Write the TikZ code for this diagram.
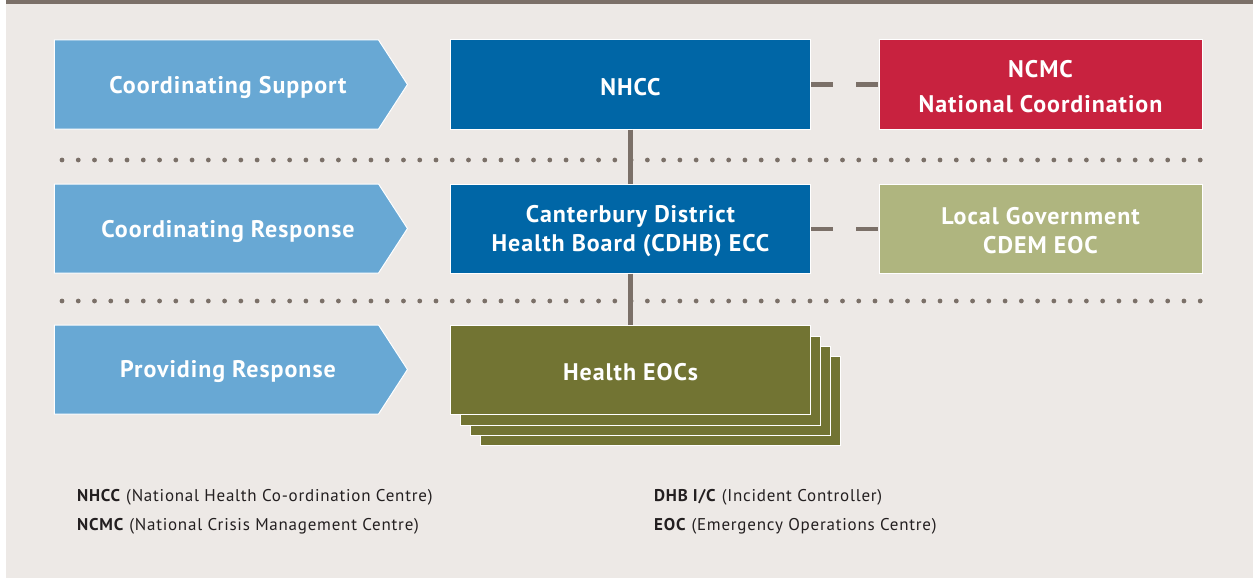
\documentclass[tikz,border=0pt]{standalone}
\usepackage{fontspec}
\setmainfont{PT Sans}
\newfontfamily\boxfont{PT Sans}[LetterSpace=4]
\newfontfamily\legendfont{PT Sans}[LetterSpace=4.5]
\usetikzlibrary{shapes.symbols, positioning}
\definecolor{bggray}{HTML}{EDE9E6}
\definecolor{linegray}{HTML}{7B7068}
\definecolor{arrowblue}{HTML}{68A8D4}
\definecolor{darkblue}{HTML}{0066A6}
\definecolor{ncmcred}{HTML}{C8223F}
\definecolor{localgreen}{HTML}{AFB57F}
\definecolor{eocolive}{HTML}{727433}
\definecolor{legendtext}{HTML}{231F20}

\begin{document}
\begin{tikzpicture}[x=1pt, y=-1pt,
    labeltext/.style={font=\boxfont\bfseries\fontsize{24}{29}\selectfont, text=white, align=center, yshift=-2.5pt},
    levelarrow/.style={signal, signal to=east, signal pointer angle=114, fill=arrowblue, draw=white, line width=1pt, minimum width=353pt, minimum height=89pt, inner sep=0pt},
    orgbox/.style={rectangle, draw=white, line width=1pt, minimum width=360pt, minimum height=89pt, inner sep=0pt},
    sidebox/.style={orgbox, minimum width=323pt},
    link/.style={linegray, line width=5pt},
    legend/.style={anchor=base west, text=legendtext, font=\legendfont\fontsize{17}{20}\selectfont, inner sep=0pt}]
\useasboundingbox (0,0) rectangle (1253,578);
% background
\fill[bggray] (6,4) rectangle (1253,578);
\fill[linegray] (6,0) rectangle (1253,4);
% dotted separators
\foreach \y in {160, 301}
{
    \foreach \x in {0,...,70}
    {
        \fill[linegray] (62+\x*16.26, \y) circle (2.4);
    }
}
% levels
\node[levelarrow, label={[labeltext, xshift=11.5pt]center:Coordinating Support}] (support) at (216.5, 84.5) {};
\node[levelarrow, label={[labeltext, xshift=11.5pt]center:Coordinating Response}] (response) at (216.5, 228.5) {};
\node[levelarrow, label={[labeltext, xshift=11.5pt]center:Providing Response}] (providing) at (216.5, 369.5) {};
% organisations
\node[orgbox, fill=darkblue, label={[labeltext]center:NHCC}] (nhcc) at (630.5, 84.5) {};
\node[orgbox, fill=darkblue, label={[labeltext]center:Canterbury District\\Health Board (CDHB) ECC}] (cdhb) at (630.5, 228.5) {};
\node[sidebox, fill=ncmcred, label={[labeltext]center:NCMC\\[6pt]National Coordination}] (ncmc) at (1040.5, 84.5) {};
\node[sidebox, fill=localgreen, label={[labeltext]center:Local Government\\CDEM EOC}] (localgov) at (1040.5, 228.5) {};
% stacked EOCs
\node[orgbox, fill=eocolive] (eocC) at (660.5, 400.5) {};
\node[orgbox, fill=eocolive] (eocB) at (650.5, 390.5) {};
\node[orgbox, fill=eocolive] (eocA) at (640.5, 380.5) {};
\node[orgbox, fill=eocolive, label={[labeltext]center:Health EOCs}] (eocs) at (630.5, 369.5) {};
% connectors
\draw[link] (nhcc.south) -- (cdhb.north);
\draw[link] (cdhb.south) -- (eocs.north);
\draw[link, line width=4pt, dash pattern=on 22pt off 23pt] (nhcc.east) -- (ncmc.west);
\draw[link, line width=4pt, dash pattern=on 22pt off 23pt] (cdhb.east) -- (localgov.west);
% legend
\node[legend] (keynhcc) at (77, 501) {\textbf{NHCC} (National Health Co-ordination Centre)};
\node[legend] (keyncmc) at (77, 530) {\textbf{NCMC} (National Crisis Management Centre)};
\node[legend] (keydhb) at (654, 501) {\textbf{DHB I/C} (Incident Controller)};
\node[legend] (keyeoc) at (654, 530) {\textbf{EOC} (Emergency Operations Centre)};
\end{tikzpicture}
\end{document}
